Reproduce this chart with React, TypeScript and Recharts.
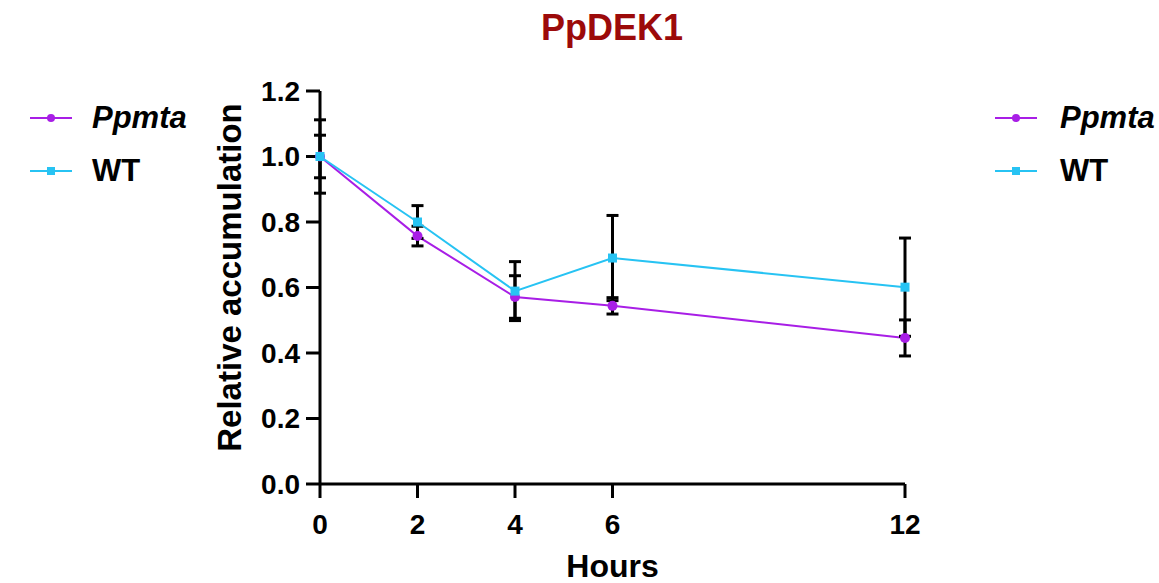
import React from 'react';
import {
  LineChart,
  Line,
  XAxis,
  YAxis,
  ErrorBar,
  Legend,
  Label,
  Customized,
} from 'recharts';

// Sampling times (hours) and tick labels
const hours = [0, 2, 4, 6, 12];
const xTicks = [0, 2, 4, 6, 12];
const yTicks = [0, 0.2, 0.4, 0.6, 0.8, 1.0, 1.2];

// Relative accumulation of PpDEK1 (mean ± error)
const ppmtaMean = [1.0, 0.757, 0.571, 0.544, 0.446];
const ppmtaErr = [0.065, 0.03, 0.065, 0.025, 0.055];
const wtMean = [1.0, 0.8, 0.589, 0.69, 0.601];
const wtErr = [0.112, 0.05, 0.09, 0.13, 0.15];

const seriesNames = ['Ppmta', 'WT'];

const PURPLE = '#a81ee6';
const BLUE = '#27c3f3';
const FONT = '"Liberation Sans", Arial, Helvetica, sans-serif';

const data = hours.map((h, i) => ({
  hour: h,
  ppmta: ppmtaMean[i],
  ppmtaErr: ppmtaErr[i],
  wt: wtMean[i],
  wtErr: wtErr[i],
}));

const W = 1159;
const H = 583;

const SquareDot = (props: any) => {
  const { cx, cy, index } = props;
  if (cx == null || cy == null) return null;
  return <rect key={`sq-${index}`} x={cx - 4.5} y={cy - 4.5} width={9} height={9} fill={BLUE} />;
};

const LegendGroup = ({ x, textX }: { x: number; textX: number }) => {
  const rows = [
    { name: seriesNames[0], color: PURPLE, y: 118, shape: 'circle', italic: true },
    { name: seriesNames[1], color: BLUE, y: 171, shape: 'square', italic: false },
  ];
  return (
    <g>
      {rows.map((r) => (
        <g key={r.name}>
          <line x1={x} x2={x + 42} y1={r.y} y2={r.y} stroke={r.color} strokeWidth={2} />
          {r.shape === 'circle' ? (
            <circle cx={x + 21} cy={r.y} r={4} fill={r.color} />
          ) : (
            <rect x={x + 17} y={r.y - 4} width={8} height={8} fill={r.color} />
          )}
          <text
            x={textX}
            y={r.y + 10}
            fontFamily={FONT}
            fontSize={31}
            fontWeight="bold"
            fontStyle={r.italic ? 'italic' : 'normal'}
            fill="#000"
          >
            {r.name}
          </text>
        </g>
      ))}
    </g>
  );
};

const LegendContent = () => (
  <svg width={W} height={H} style={{ position: 'absolute', left: 0, top: 0 }}>
    <LegendGroup x={30} textX={92} />
    <LegendGroup x={995} textX={1060} />
  </svg>
);

const Title = () => (
  <text
    x={612}
    y={40}
    textAnchor="middle"
    fontFamily={FONT}
    fontSize={36}
    fontWeight="bold"
    fill="#9c0a0a"
  >
    PpDEK1
  </text>
);

const YLabel = (props: any) => {
  const vb = props.viewBox || {};
  const cx = vb.x + vb.width - 91;
  const cy = vb.y + vb.height / 2 - 10;
  return (
    <text
      x={cx}
      y={cy}
      transform={`rotate(-90, ${cx}, ${cy})`}
      textAnchor="middle"
      dominantBaseline="central"
      fontFamily={FONT}
      fontSize={33}
      fontWeight="bold"
      fill="#000"
    >
      Relative accumulation
    </text>
  );
};

const XLabel = (props: any) => {
  const vb = props.viewBox || {};
  return (
    <text
      x={vb.x + vb.width / 2}
      y={vb.y + 93}
      textAnchor="middle"
      fontFamily={FONT}
      fontSize={32}
      fontWeight="bold"
      fill="#000"
    >
      Hours
    </text>
  );
};

const tickStyle = { fontFamily: FONT, fontSize: 28, fontWeight: 'bold', fill: '#000' };

export default function App() {
  return (
    <div style={{ position: 'absolute', left: 0, top: 0, width: W, height: H, background: '#fff' }}>
      <LineChart
        width={W}
        height={H}
        data={data}
        margin={{ top: 91, right: 254, bottom: 59, left: 240 }}
      >
        <XAxis
          dataKey="hour"
          type="number"
          domain={[0, 12]}
          ticks={xTicks}
          interval={0}
          height={40}
          tickSize={14}
          tickMargin={16}
          axisLine={{ stroke: '#000', strokeWidth: 3 }}
          tickLine={{ stroke: '#000', strokeWidth: 3 }}
          tick={tickStyle}
        >
          <Label content={<XLabel />} />
        </XAxis>
        <YAxis
          type="number"
          domain={[0, 1.2]}
          ticks={yTicks}
          interval={0}
          width={80}
          tickSize={14}
          tickMargin={6}
          tickFormatter={(v: number) => v.toFixed(1)}
          axisLine={{ stroke: '#000', strokeWidth: 3 }}
          tickLine={{ stroke: '#000', strokeWidth: 3 }}
          tick={tickStyle}
        >
          <Label content={<YLabel />} />
        </YAxis>
        <Legend
          layout="horizontal"
          verticalAlign="middle"
          align="center"
          wrapperStyle={{ position: 'absolute', left: 0, top: 0, width: W, height: H, pointerEvents: 'none' }}
          content={<LegendContent />}
        />
        <Customized component={<Title />} />
        <Line
          dataKey="ppmta"
          name={seriesNames[0]}
          stroke={PURPLE}
          strokeWidth={2}
          dot={{ r: 5, fill: PURPLE, stroke: PURPLE, strokeWidth: 0 }}
          isAnimationActive={false}
        >
          <ErrorBar dataKey="ppmtaErr" direction="y" width={6} strokeWidth={3} stroke="#000" isAnimationActive={false} />
        </Line>
        <Line
          dataKey="wt"
          name={seriesNames[1]}
          stroke={BLUE}
          strokeWidth={2}
          dot={<SquareDot />}
          isAnimationActive={false}
        >
          <ErrorBar dataKey="wtErr" direction="y" width={6} strokeWidth={3} stroke="#000" isAnimationActive={false} />
        </Line>
      </LineChart>
    </div>
  );
}
